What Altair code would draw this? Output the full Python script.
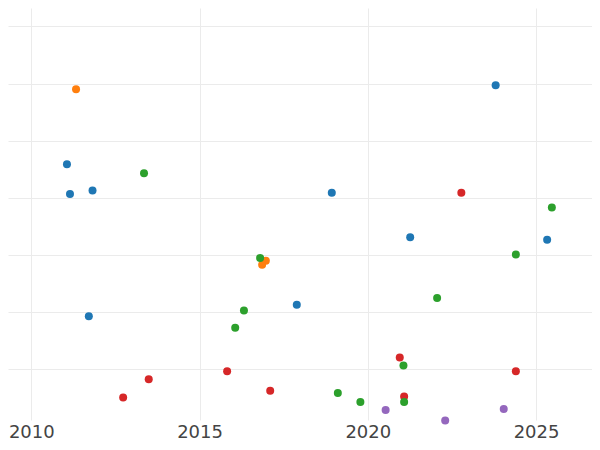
import altair as alt
import pandas as pd

# Series readings (x in fractional years, y in gridline units)
blue_x = [2011.06, 2011.15, 2011.82, 2011.71, 2017.89, 2018.93, 2021.26, 2023.80, 2025.33]
blue_y = [4.59, 4.07, 4.13, 1.93, 2.13, 4.09, 3.31, 5.97, 3.27]

orange_x = [2011.33, 2016.97, 2016.86]
orange_y = [5.90, 2.90, 2.83]

red_x = [2012.73, 2013.49, 2015.82, 2017.10, 2020.95, 2021.08, 2022.78, 2024.40]
red_y = [0.51, 0.83, 0.97, 0.63, 1.21, 0.53, 4.09, 0.97]

purple_x = [2020.53, 2022.30, 2024.04]
purple_y = [0.29, 0.11, 0.31]

green_x = [2013.35, 2016.80, 2016.32, 2016.06, 2024.40, 2022.06, 2021.06, 2019.11, 2019.78, 2021.08, 2025.47]
green_y = [4.43, 2.95, 2.03, 1.73, 3.01, 2.25, 1.07, 0.59, 0.43, 0.43, 3.83]

series_names = ["A", "B", "C", "D", "E"]
series_colors = ["#1f77b4", "#ff7f0e", "#2ca02c", "#d62728", "#9467bd"]

x_ticks = [2010, 2015, 2020, 2025]
y_ticks = [1, 2, 3, 4, 5, 6, 7]
x_domain = [2009.308, 2026.663]
y_domain = [0.117, 7.32]

rows = []
for name, xs, ys in [("A", blue_x, blue_y), ("B", orange_x, orange_y),
                     ("D", red_x, red_y), ("E", purple_x, purple_y),
                     ("C", green_x, green_y)]:
    for xv, yv in zip(xs, ys):
        rows.append({"year": xv, "value": yv, "series": name, "order": len(rows)})
df = pd.DataFrame(rows)

chart = alt.Chart(df).mark_circle(size=64, opacity=1).encode(
    x=alt.X("year:Q",
            scale=alt.Scale(domain=x_domain, nice=False, zero=False),
            axis=alt.Axis(values=x_ticks, format="d", title=None, ticks=False,
                          domain=False, labelFontSize=18, labelColor="#444444",
                          labelFont="DejaVu Sans", labelPadding=3,
                          gridColor="#ebebeb", gridWidth=1)),
    y=alt.Y("value:Q",
            scale=alt.Scale(domain=y_domain, nice=False, zero=False),
            axis=alt.Axis(values=y_ticks, title=None, ticks=False, labels=False,
                          domain=False, gridColor="#ebebeb", gridWidth=1)),
    color=alt.Color("series:N", scale=alt.Scale(domain=series_names, range=series_colors),
                    legend=None),
    order=alt.Order("order:Q"),
).properties(
    width=584, height=412,
    padding={"top": 0, "left": 0, "right": 0, "bottom": 22},
    autosize=alt.AutoSizeParams(type="none"),
).configure_view(strokeWidth=0)

chart.save("out.html", embed_options={"renderer": "svg", "actions": False})
